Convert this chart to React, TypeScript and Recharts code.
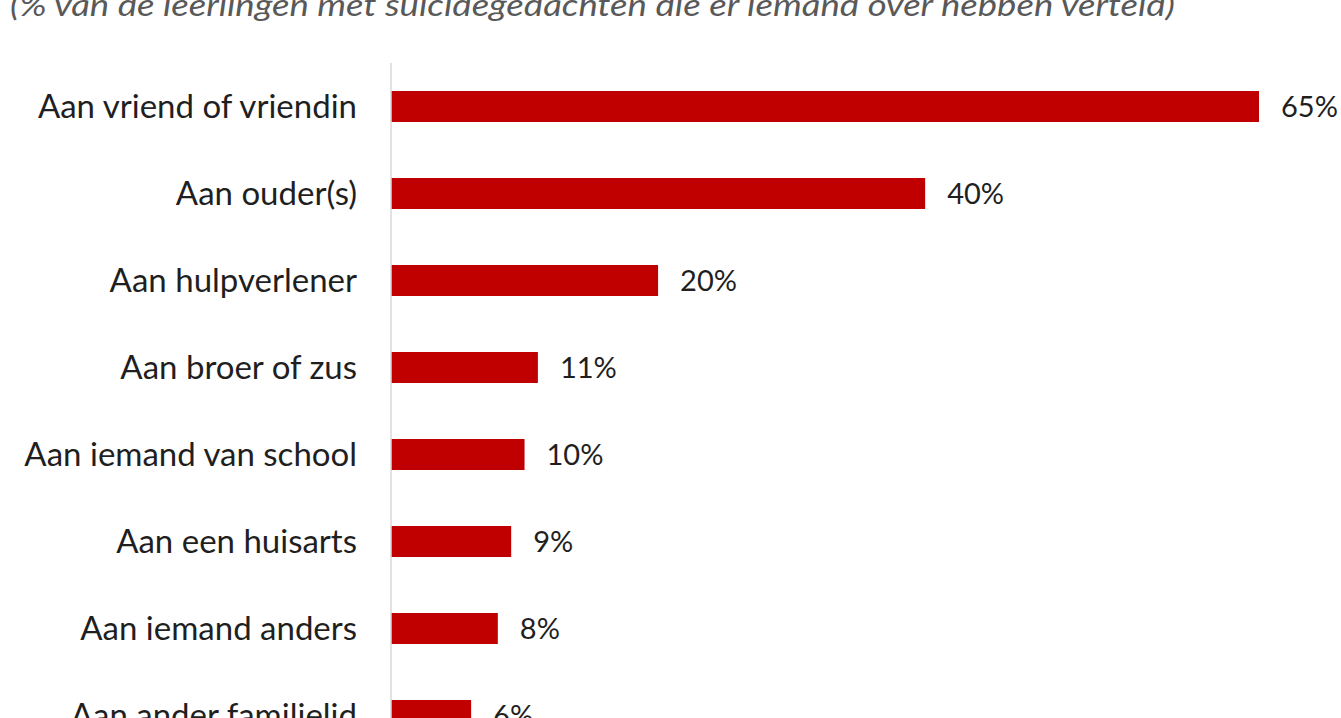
import { BarChart, Bar, XAxis, YAxis, LabelList } from 'recharts';

// Aan wie vertelden leerlingen over hun suïcidegedachten
const categories = [
  'Aan vriend of vriendin',
  'Aan ouder(s)',
  'Aan hulpverlener',
  'Aan broer of zus',
  'Aan iemand van school',
  'Aan een huisarts',
  'Aan iemand anders',
  'Aan ander familielid',
];
const percentages = [65, 40, 20, 11, 10, 9, 8, 6];

const data = categories.map((name, i) => ({ name, pct: percentages[i] }));

const FONT = 'Lato, "Open Sans", sans-serif';

const CategoryTick = ({ x, y, payload }: any) => (
  <text x={x - 26} y={y} dy="0.36em" textAnchor="end" fontSize={33} fill="#1f1f1f" fontFamily={FONT}>
    {payload.value}
  </text>
);

export default function App() {
  return (
    <div style={{ position: 'fixed', top: 0, left: 0, width: 1341, height: 718, overflow: 'hidden', background: '#fff' }}>
      <svg width={1341} height={40} style={{ position: 'absolute', top: 0, left: 0 }}>
        <text x={10} y={16} fontSize={30} fontStyle="italic" fill="#595959" fontFamily={FONT} textLength={1165} lengthAdjust="spacingAndGlyphs">
          (% van de leerlingen met suicidegedachten die er iemand over hebben verteld)
        </text>
      </svg>
      <div style={{ position: 'absolute', top: 0, left: 0 }}>
        <BarChart
          width={1341}
          height={759}
          data={data}
          layout="vertical"
          margin={{ top: 63, right: 82, bottom: 0, left: 0 }}
        >
          <XAxis type="number" domain={[0, 65]} hide />
          <YAxis
            type="category"
            dataKey="name"
            width={391}
            axisLine={{ stroke: '#d9d9d9', strokeWidth: 1.5 }}
            tickLine={false}
            tick={<CategoryTick />}
            interval={0}
          />
          <Bar dataKey="pct" fill="#c00000" barSize={31} isAnimationActive={false}>
            <LabelList
              dataKey="pct"
              position="right"
              offset={22}
              formatter={(v: any) => `${v}%`}
              style={{ fontSize: 29, fill: '#1f1f1f', fontFamily: FONT }}
            />
          </Bar>
        </BarChart>
      </div>
    </div>
  );
}
